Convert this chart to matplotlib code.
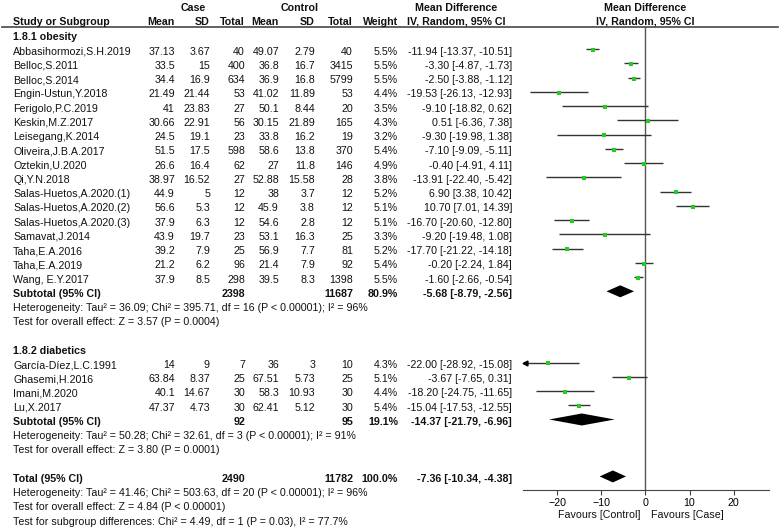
import numpy as np
import matplotlib
matplotlib.use("Agg")
import matplotlib.pyplot as plt

plt.rcParams['font.family'] = ['Liberation Sans', 'DejaVu Sans']

# ---- data -------------------------------------------------------------
obesity_studies = ["Abbasihormozi,S.H.2019", "Belloc,S.2011", "Belloc,S.2014",
                   "Engin-Ustun,Y.2018", "Ferigolo,P.C.2019", "Keskin,M.Z.2017",
                   "Leisegang,K.2014", "Oliveira,J.B.A.2017", "Oztekin,U.2020",
                   "Qi,Y.N.2018", "Salas-Huetos,A.2020.(1)", "Salas-Huetos,A.2020.(2)",
                   "Salas-Huetos,A.2020.(3)", "Samavat,J.2014", "Taha,E.A.2016",
                   "Taha,E.A.2019", "Wang, E.Y.2017"]
obesity_case_mean = [37.13, 33.5, 34.4, 21.49, 41, 30.66, 24.5, 51.5, 26.6, 38.97,
                     44.9, 56.6, 37.9, 43.9, 39.2, 21.2, 37.9]
obesity_case_sd = [3.67, 15, 16.9, 21.44, 23.83, 22.91, 19.1, 17.5, 16.4, 16.52,
                   5, 5.3, 6.3, 19.7, 7.9, 6.2, 8.5]
obesity_case_n = [40, 400, 634, 53, 27, 56, 23, 598, 62, 27, 12, 12, 12, 23, 25, 96, 298]
obesity_ctrl_mean = [49.07, 36.8, 36.9, 41.02, 50.1, 30.15, 33.8, 58.6, 27, 52.88,
                     38, 45.9, 54.6, 53.1, 56.9, 21.4, 39.5]
obesity_ctrl_sd = [2.79, 16.7, 16.8, 11.89, 8.44, 21.89, 16.2, 13.8, 11.8, 15.58,
                   3.7, 3.8, 2.8, 16.3, 7.7, 7.9, 8.3]
obesity_ctrl_n = [40, 3415, 5799, 53, 20, 165, 19, 370, 146, 28, 12, 12, 12, 25, 81, 92, 1398]
obesity_weight = [5.5, 5.5, 5.5, 4.4, 3.5, 4.3, 3.2, 5.4, 4.9, 3.8, 5.2, 5.1, 5.1, 3.3,
                  5.2, 5.4, 5.5]
obesity_md = [-11.94, -3.30, -2.50, -19.53, -9.10, 0.51, -9.30, -7.10, -0.40, -13.91,
              6.90, 10.70, -16.70, -9.20, -17.70, -0.20, -1.60]
obesity_lo = [-13.37, -4.87, -3.88, -26.13, -18.82, -6.36, -19.98, -9.09, -4.91, -22.40,
              3.38, 7.01, -20.60, -19.48, -21.22, -2.24, -2.66]
obesity_hi = [-10.51, -1.73, -1.12, -12.93, 0.62, 7.38, 1.38, -5.11, 4.11, -5.42,
              10.42, 14.39, -12.80, 1.08, -14.18, 1.84, -0.54]

diabetic_studies = ["García-Díez,L.C.1991", "Ghasemi,H.2016", "Imani,M.2020", "Lu,X.2017"]
diabetic_case_mean = [14, 63.84, 40.1, 47.37]
diabetic_case_sd = [9, 8.37, 14.67, 4.73]
diabetic_case_n = [7, 25, 30, 30]
diabetic_ctrl_mean = [36, 67.51, 58.3, 62.41]
diabetic_ctrl_sd = [3, 5.73, 10.93, 5.12]
diabetic_ctrl_n = [10, 25, 30, 30]
diabetic_weight = [4.3, 5.1, 4.4, 5.4]
diabetic_md = [-22.00, -3.67, -18.20, -15.04]
diabetic_lo = [-28.92, -7.65, -24.75, -17.53]
diabetic_hi = [-15.08, 0.31, -11.65, -12.55]

subtotal_labels = ["Subtotal (95% CI)", "Subtotal (95% CI)", "Total (95% CI)"]
subtotal_case_n = [2398, 92, 2490]
subtotal_ctrl_n = [11687, 95, 11782]
subtotal_weight = [80.9, 19.1, 100.0]
subtotal_md = [-5.68, -14.37, -7.36]
subtotal_lo = [-8.79, -21.79, -10.34]
subtotal_hi = [-2.56, -6.96, -4.38]

het_obesity = ["Heterogeneity: Tau² = 36.09; Chi² = 395.71, df = 16 (P < 0.00001); I² = 96%",
               "Test for overall effect: Z = 3.57 (P = 0.0004)"]
het_diabetic = ["Heterogeneity: Tau² = 50.28; Chi² = 32.61, df = 3 (P < 0.00001); I² = 91%",
                "Test for overall effect: Z = 3.80 (P = 0.0001)"]
het_total = ["Heterogeneity: Tau² = 41.46; Chi² = 503.63, df = 20 (P < 0.00001); I² = 96%",
             "Test for overall effect: Z = 4.84 (P < 0.00001)",
             "Test for subgroup differences: Chi² = 4.49, df = 1 (P = 0.03), I² = 77.7%"]

xticks = [-20, -10, 0, 10, 20]

# ---- layout (pixel coordinates) ---------------------------------------
W, H = 783, 530
FS = 7.7
row0, pitch = 37.5, 14.24
def ry(i):
    return row0 + pitch * i

col_label = 13
col_cm, col_csd, col_cn = 175, 210, 245
col_km, col_ksd, col_kn = 279, 315, 353
col_w = 398
col_ci = 512
fx_left, fx_right, fx_top, fx_bottom = 523, 769, 27, 490
xlim = (-27.7, 28.0)

fig = plt.figure(figsize=(W / 100, H / 100), dpi=100)
ax = fig.add_axes([0, 0, 1, 1])
ax.set_xlim(0, W)
ax.set_ylim(H, 0)
ax.axis('off')

fx = fig.add_axes([fx_left / W, (H - fx_bottom) / H,
                   (fx_right - fx_left) / W, (fx_bottom - fx_top) / H])
fx.set_xlim(*xlim)
fx.set_ylim(fx_bottom, fx_top)
fx.patch.set_alpha(0)
for s in ['top', 'right', 'left']:
    fx.spines[s].set_visible(False)
fx.spines['bottom'].set_color('#444444')
fx.set_yticks([])
fx.set_xticks(xticks)
fx.tick_params(axis='x', length=3.5, width=0.8, color='#444444', labelsize=FS, pad=2)
fx.axvline(0, color='#555555', lw=1)

def txt(x, y, s, ha='left', bold=False):
    ax.text(x, y, s, ha=ha, va='center', fontsize=FS,
            fontweight='bold' if bold else 'normal', color='#111111')

# headers
txt(193, 8, "Case", ha='center', bold=True)
txt(300, 8, "Control", ha='center', bold=True)
txt(456, 8, "Mean Difference", ha='center', bold=True)
txt(645.5, 8, "Mean Difference", ha='center', bold=True)
txt(col_label, 22, "Study or Subgroup", bold=True)
for x, s in [(col_cm, "Mean"), (col_csd, "SD"), (col_cn, "Total"),
             (col_km, "Mean"), (col_ksd, "SD"), (col_kn, "Total"), (col_w, "Weight")]:
    txt(x, 22, s, ha='right', bold=True)
txt(456, 22, "IV, Random, 95% CI", ha='center', bold=True)
txt(645.5, 22, "IV, Random, 95% CI", ha='center', bold=True)
ax.plot([2, 778], [26.5, 26.5], color='#555555', lw=1.3)

def study_rows(start, names, cm, csd, cn, km, ksd, kn, w, md, lo, hi):
    for k, name in enumerate(names):
        y = ry(start + k)
        txt(col_label, y, name)
        txt(col_cm, y, f"{cm[k]:g}", ha='right')
        txt(col_csd, y, f"{csd[k]:g}", ha='right')
        txt(col_cn, y, f"{cn[k]}", ha='right')
        txt(col_km, y, f"{km[k]:g}", ha='right')
        txt(col_ksd, y, f"{ksd[k]:g}", ha='right')
        txt(col_kn, y, f"{kn[k]}", ha='right')
        txt(col_w, y, f"{w[k]:.1f}%", ha='right')
        txt(col_ci, y, f"{md[k]:.2f} [{lo[k]:.2f}, {hi[k]:.2f}]", ha='right')
        fy = y - 2.5
        left = max(lo[k], xlim[0])
        fx.hlines(fy, left, hi[k], color='#333333', lw=1)
        if lo[k] < xlim[0]:
            fx.plot(xlim[0] + 0.4, fy, marker='<', color='black', ms=3.5, clip_on=False)
        fx.plot(md[k], fy + 0.8, 's', color='#22cc22', ms=2.4, mew=0)

def subtotal_row(i, j):
    y = ry(i)
    txt(col_label, y, subtotal_labels[j], bold=True)
    txt(col_cn, y, f"{subtotal_case_n[j]}", ha='right', bold=True)
    txt(col_kn, y, f"{subtotal_ctrl_n[j]}", ha='right', bold=True)
    txt(col_w, y, f"{subtotal_weight[j]:.1f}%", ha='right', bold=True)
    txt(col_ci, y, f"{subtotal_md[j]:.2f} [{subtotal_lo[j]:.2f}, {subtotal_hi[j]:.2f}]",
        ha='right', bold=True)
    fy = y - 2.5
    fx.fill([subtotal_lo[j], subtotal_md[j], subtotal_hi[j], subtotal_md[j]],
            [fy, fy - 6, fy, fy + 6], color='black', lw=0)

# obesity group
txt(col_label, ry(0), "1.8.1 obesity", bold=True)
study_rows(1, obesity_studies, obesity_case_mean, obesity_case_sd, obesity_case_n,
           obesity_ctrl_mean, obesity_ctrl_sd, obesity_ctrl_n, obesity_weight,
           obesity_md, obesity_lo, obesity_hi)
subtotal_row(18, 0)
for k, s in enumerate(het_obesity):
    txt(col_label, ry(19 + k), s)

# diabetics group
txt(col_label, ry(22), "1.8.2 diabetics", bold=True)
study_rows(23, diabetic_studies, diabetic_case_mean, diabetic_case_sd, diabetic_case_n,
           diabetic_ctrl_mean, diabetic_ctrl_sd, diabetic_ctrl_n, diabetic_weight,
           diabetic_md, diabetic_lo, diabetic_hi)
subtotal_row(27, 1)
for k, s in enumerate(het_diabetic):
    txt(col_label, ry(28 + k), s)

# total
subtotal_row(31, 2)
for k, s in enumerate(het_total):
    txt(col_label, ry(32 + k), s)

# favours labels
txt(640, 515, "Favours [Control]", ha='right')
txt(651, 515, "Favours [Case]", ha='left')

fig.savefig("out.png", dpi=100)
